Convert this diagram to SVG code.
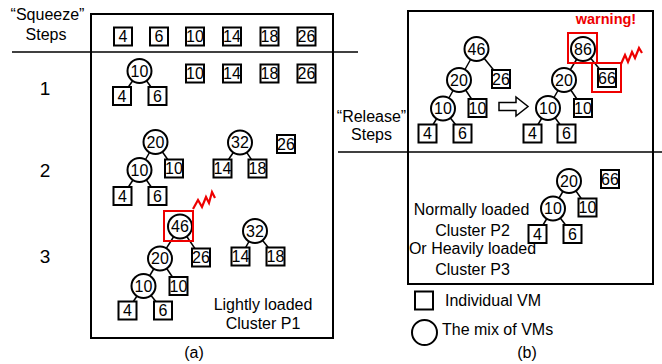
<svg xmlns="http://www.w3.org/2000/svg" width="662" height="364" viewBox="0 0 662 364">
<style>
text{font-family:"Liberation Sans",Arial,sans-serif;fill:#000}
.lbl{font-size:16px}
.num{font-size:16px;text-anchor:middle}
.row{font-size:19px;text-anchor:middle}
.c{fill:#fff;stroke:#000;stroke-width:2}
.b{fill:#fff;stroke:#000;stroke-width:2}
.frame{fill:none;stroke:#000;stroke-width:2}
.ln{stroke:#000;stroke-width:1.5;fill:none}
.red{fill:none;stroke:#e00;stroke-width:2}
.zz{fill:none;stroke:#e00;stroke-width:2.2;stroke-linejoin:miter}
</style>
<defs>
<rect id="sq" x="-9" y="-9" width="18" height="18" class="b"/>
<circle id="ci" r="12" class="c"/>
</defs>
<rect width="662" height="364" fill="#fff"/>

<!-- frames and separators -->
<g id="frames">
<rect x="91" y="14" width="242" height="324" class="frame"/>
<line x1="12" y1="52" x2="358" y2="52" class="ln"/>
<rect x="408" y="11" width="245" height="273" class="frame"/>
<line x1="338" y1="152" x2="662" y2="152" class="ln"/>
</g>

<!-- labels -->
<g id="labels">
<text class="lbl" x="47.5" y="20" text-anchor="middle">“Squeeze”</text>
<text class="lbl" x="46" y="40" text-anchor="middle">Steps</text>
<text class="row" x="45" y="95">1</text>
<text class="row" x="45" y="177">2</text>
<text class="row" x="45" y="263">3</text>
<text class="lbl" x="263" y="310" text-anchor="middle">Lightly loaded</text>
<text class="lbl" x="263" y="329" text-anchor="middle">Cluster P1</text>
<text class="lbl" x="194" y="358" text-anchor="middle">(a)</text>
<text class="lbl" x="371.5" y="122" text-anchor="middle">“Release”</text>
<text class="lbl" x="371.5" y="140" text-anchor="middle">Steps</text>
<text x="606" y="24" text-anchor="middle" font-size="14.5" font-weight="bold" style="fill:#e00">warning!</text>
<text class="lbl" x="471.5" y="215" text-anchor="middle">Normally loaded</text>
<text class="lbl" x="472.5" y="236" text-anchor="middle">Cluster P2</text>
<text class="lbl" x="472.5" y="254" text-anchor="middle">Or Heavily loaded</text>
<text class="lbl" x="472.5" y="275" text-anchor="middle">Cluster P3</text>
<text class="lbl" x="445" y="306">Individual VM</text>
<text class="lbl" x="442" y="335">The mix of VMs</text>
<text class="lbl" x="527" y="358" text-anchor="middle">(b)</text>
</g>

<!-- connectors -->
<g id="connectors">
<!-- row 1 -->
<line x1="139.5" y1="71" x2="122" y2="96" class="ln"/>
<line x1="139.5" y1="71" x2="157.5" y2="96" class="ln"/>
<!-- row 2 -->
<line x1="155.5" y1="142" x2="139.5" y2="170" class="ln"/>
<line x1="155.5" y1="142" x2="174" y2="168.5" class="ln"/>
<line x1="139.5" y1="170" x2="122.5" y2="196" class="ln"/>
<line x1="139.5" y1="170" x2="157.5" y2="196" class="ln"/>
<line x1="240" y1="142.5" x2="222.5" y2="168.5" class="ln"/>
<line x1="240" y1="142.5" x2="257.5" y2="168.5" class="ln"/>
<!-- row 3 -->
<line x1="180" y1="226.5" x2="160" y2="258.5" class="ln"/>
<line x1="180" y1="226.5" x2="201" y2="257.5" class="ln"/>
<line x1="160" y1="258.5" x2="143.5" y2="286" class="ln"/>
<line x1="160" y1="258.5" x2="178.5" y2="286" class="ln"/>
<line x1="143.5" y1="286" x2="127.5" y2="310.5" class="ln"/>
<line x1="143.5" y1="286" x2="163" y2="310.5" class="ln"/>
<line x1="255" y1="231" x2="240.5" y2="256.5" class="ln"/>
<line x1="255" y1="231" x2="275.5" y2="256.5" class="ln"/>
<!-- b left -->
<line x1="476.5" y1="49" x2="459" y2="80" class="ln"/>
<line x1="476.5" y1="49" x2="501" y2="79" class="ln"/>
<line x1="459" y1="80" x2="443" y2="108.5" class="ln"/>
<line x1="459" y1="80" x2="477.5" y2="108" class="ln"/>
<line x1="443" y1="108.5" x2="427.5" y2="133.5" class="ln"/>
<line x1="443" y1="108.5" x2="462.5" y2="133.5" class="ln"/>
<!-- b right -->
<line x1="583" y1="49" x2="564" y2="80" class="ln"/>
<line x1="583" y1="49" x2="607" y2="78" class="ln"/>
<line x1="564" y1="80" x2="548" y2="108" class="ln"/>
<line x1="564" y1="80" x2="583" y2="108" class="ln"/>
<line x1="548" y1="108" x2="532.5" y2="133.5" class="ln"/>
<line x1="548" y1="108" x2="566.5" y2="133.5" class="ln"/>
<!-- b bottom -->
<line x1="569" y1="181" x2="553" y2="208.5" class="ln"/>
<line x1="569" y1="181" x2="587.5" y2="207.5" class="ln"/>
<line x1="553" y1="208.5" x2="537.5" y2="234" class="ln"/>
<line x1="553" y1="208.5" x2="572.5" y2="234" class="ln"/>
</g>

<!-- nodes: top row -->
<g id="top-row">
<use href="#sq" x="123" y="36.5"/><text class="num" x="123" y="42.3">4</text>
<use href="#sq" x="159" y="36.5"/><text class="num" x="159" y="42.3">6</text>
<use href="#sq" x="195" y="36.5"/><text class="num" x="195" y="42.3">10</text>
<use href="#sq" x="232" y="36.5"/><text class="num" x="232" y="42.3">14</text>
<use href="#sq" x="269.5" y="36.5"/><text class="num" x="269.5" y="42.3">18</text>
<use href="#sq" x="306.5" y="36.5"/><text class="num" x="306.5" y="42.3">26</text>
</g>

<g id="row1">
<use href="#ci" x="139.5" y="71"/><text class="num" x="139.5" y="76.8">10</text>
<use href="#sq" x="122" y="96"/><text class="num" x="122" y="101.8">4</text>
<use href="#sq" x="157.5" y="96"/><text class="num" x="157.5" y="101.8">6</text>
<use href="#sq" x="195" y="73.5"/><text class="num" x="195" y="79.3">10</text>
<use href="#sq" x="232" y="73.5"/><text class="num" x="232" y="79.3">14</text>
<use href="#sq" x="269.5" y="73.5"/><text class="num" x="269.5" y="79.3">18</text>
<use href="#sq" x="306.5" y="73.5"/><text class="num" x="306.5" y="79.3">26</text>
</g>

<g id="row2">
<use href="#ci" x="155.5" y="142"/><text class="num" x="155.5" y="147.8">20</text>
<use href="#ci" x="139.5" y="170"/><text class="num" x="139.5" y="175.8">10</text>
<use href="#sq" x="174" y="168.5"/><text class="num" x="174" y="174.3">10</text>
<use href="#sq" x="122.5" y="196"/><text class="num" x="122.5" y="201.8">4</text>
<use href="#sq" x="157.5" y="196"/><text class="num" x="157.5" y="201.8">6</text>
<use href="#ci" x="240" y="142.5"/><text class="num" x="240" y="148.3">32</text>
<use href="#sq" x="222.5" y="168.5"/><text class="num" x="222.5" y="174.3">14</text>
<use href="#sq" x="257.5" y="168.5"/><text class="num" x="257.5" y="174.3">18</text>
<use href="#sq" x="286" y="144"/><text class="num" x="286" y="149.8">26</text>
</g>

<g id="row3">
<use href="#ci" x="180" y="226.5"/><text class="num" x="180" y="232.3">46</text>
<rect x="164" y="211" width="29" height="30" class="red"/>
<polyline points="193,209 198,200 202,207 206,197 209,203 212,192 215,198" class="zz"/>
<use href="#ci" x="160" y="258.5"/><text class="num" x="160" y="264.3">20</text>
<use href="#sq" x="201" y="257.5"/><text class="num" x="201" y="263.3">26</text>
<use href="#ci" x="143.5" y="286"/><text class="num" x="143.5" y="291.8">10</text>
<use href="#sq" x="178.5" y="286"/><text class="num" x="178.5" y="291.8">10</text>
<use href="#sq" x="127.5" y="310.5"/><text class="num" x="127.5" y="316.3">4</text>
<use href="#sq" x="163" y="310.5"/><text class="num" x="163" y="316.3">6</text>
<use href="#ci" x="255" y="231"/><text class="num" x="255" y="236.8">32</text>
<use href="#sq" x="240.5" y="256.5"/><text class="num" x="240.5" y="262.3">14</text>
<use href="#sq" x="275.5" y="256.5"/><text class="num" x="275.5" y="262.3">18</text>
</g>

<g id="release-before">
<use href="#ci" x="476.5" y="49"/><text class="num" x="476.5" y="54.8">46</text>
<use href="#ci" x="459" y="80"/><text class="num" x="459" y="85.8">20</text>
<use href="#sq" x="501" y="79"/><text class="num" x="501" y="84.8">26</text>
<use href="#ci" x="443" y="108.5"/><text class="num" x="443" y="114.3">10</text>
<use href="#sq" x="477.5" y="108"/><text class="num" x="477.5" y="113.8">10</text>
<use href="#sq" x="427.5" y="133.5"/><text class="num" x="427.5" y="139.3">4</text>
<use href="#sq" x="462.5" y="133.5"/><text class="num" x="462.5" y="139.3">6</text>
</g>

<g id="arrow">
<polygon points="499,102.5 516,102.5 516,97 528,106.5 516,116 516,110.5 499,110.5" fill="#fff" stroke="#000" stroke-width="1.5"/>
</g>

<g id="release-after">
<use href="#ci" x="583" y="49"/><text class="num" x="583" y="54.8">86</text>
<rect x="568" y="33" width="29" height="30" class="red"/>
<use href="#sq" x="607" y="78"/><text class="num" x="607" y="83.8">66</text>
<rect x="592" y="63" width="29" height="29" class="red"/>
<polyline points="621,64 625,55 628,62 632,52 635,58 639,48 642,53" class="zz"/>
<use href="#ci" x="564" y="80"/><text class="num" x="564" y="85.8">20</text>
<use href="#ci" x="548" y="108"/><text class="num" x="548" y="113.8">10</text>
<use href="#sq" x="583" y="108"/><text class="num" x="583" y="113.8">10</text>
<use href="#sq" x="532.5" y="133.5"/><text class="num" x="532.5" y="139.3">4</text>
<use href="#sq" x="566.5" y="133.5"/><text class="num" x="566.5" y="139.3">6</text>
</g>

<g id="release-result">
<use href="#ci" x="569" y="181"/><text class="num" x="569" y="186.8">20</text>
<use href="#sq" x="610" y="179"/><text class="num" x="610" y="184.8">66</text>
<use href="#ci" x="553" y="208.5"/><text class="num" x="553" y="214.3">10</text>
<use href="#sq" x="587.5" y="207.5"/><text class="num" x="587.5" y="213.3">10</text>
<use href="#sq" x="537.5" y="234"/><text class="num" x="537.5" y="239.8">4</text>
<use href="#sq" x="572.5" y="234"/><text class="num" x="572.5" y="239.8">6</text>
</g>

<g id="legend">
<rect x="415" y="291.5" width="18" height="18" class="b"/>
<circle cx="424.5" cy="332.5" r="12.5" class="c"/>
</g>
</svg>
